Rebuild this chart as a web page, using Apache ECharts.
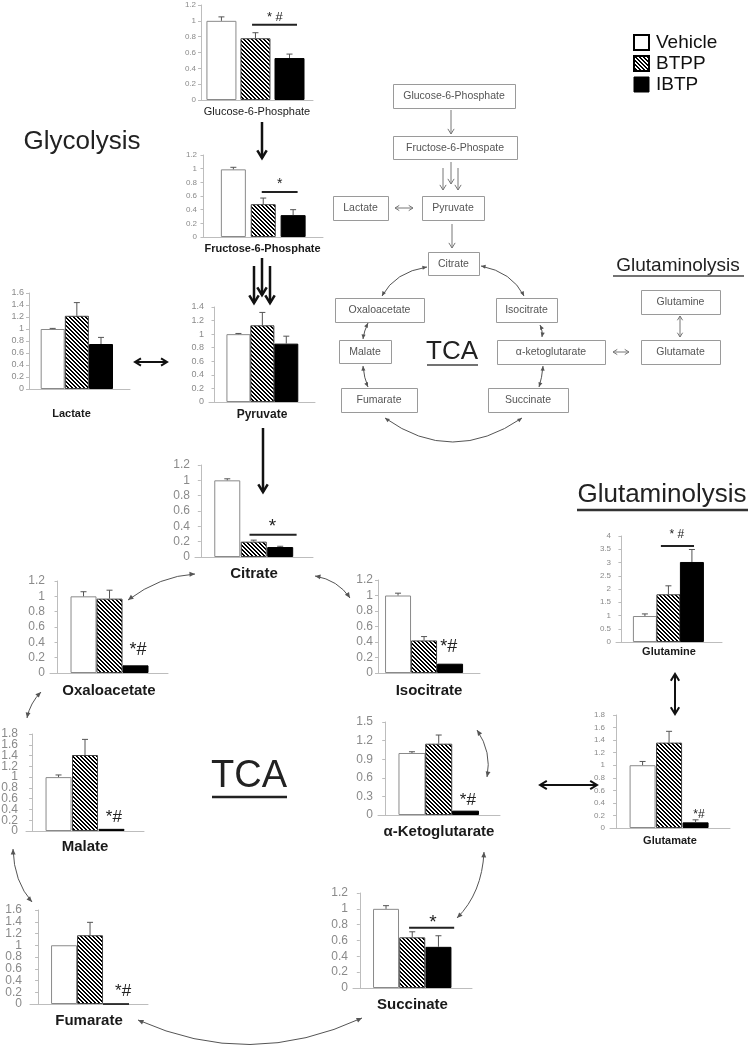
<!DOCTYPE html>
<html><head><meta charset="utf-8">
<script src="https://cdn.jsdelivr.net/npm/echarts@6/dist/echarts.min.js"></script>
<style>html,body{margin:0;padding:0;background:#fff}#c{width:750px;height:1049px}</style>
</head><body><div id="c"></div>
<script>
// ---------------- DATA ----------------
const metabolites = ['Glucose-6-Phosphate','Fructose-6-Phosphate','Lactate','Pyruvate','Citrate','Oxaloacetate','Isocitrate','Malate','Fumarate','α-Ketoglutarate','Succinate','Glutamine','Glutamate'];
const groups      = ['Vehicle','BTPP','IBTP'];
const vehicle     = [1.00,0.99,1.00,1.00,1.00,1.00,1.00,1.00,1.00,1.00,1.00,0.98,1.00];
const vehicleErr  = [0.05,0.03,0.01,0.01,0.02,0.06,0.03,0.04,0.00,0.02,0.04,0.08,0.06];
const btpp        = [0.78,0.48,1.22,1.13,0.20,0.97,0.42,1.41,1.17,1.15,0.64,1.80,1.36];
const btppErr     = [0.07,0.09,0.22,0.19,0.02,0.11,0.05,0.29,0.22,0.14,0.07,0.32,0.18];
const ibtp        = [0.53,0.32,0.75,0.86,0.13,0.10,0.12,0.04,0.00,0.07,0.52,3.02,0.09];
const ibtpErr     = [0.05,0.08,0.11,0.11,0.01,0.00,0.00,0.00,0.00,0.00,0.14,0.47,0.04];
const yMax        = [1.2,1.2,1.6,1.4,1.2,1.2,1.2,1.8,1.6,1.5,1.2,4,1.8];
const yStep       = [0.2,0.2,0.2,0.2,0.2,0.2,0.2,0.2,0.2,0.3,0.2,0.5,0.2];
// significance annotations (text, text position in data units, optional bracket line)
const sigText     = ['* #','*','','','*','*#','*#','*#','*#','*#','*','* #','*#'];
const sigX        = [2.57,2.55,0,0,2.71,3.1,2.95,3.09,3.27,3.09,2.79,2.36,3.13];
const sigY        = [1.04,0.78,0,0,0.40,0.30,0.34,0.26,0.22,0.24,0.83,4.04,0.22];
const sigLineFrom = [1.9,1.95,null,null,1.84,null,null,null,null,null,1.88,1.68,null];
const sigLineTo   = [3.22,3.15,null,null,3.62,null,null,null,null,null,3.6,3.09,null];
const sigLineY    = [0.95,0.66,null,null,0.29,null,null,null,null,null,0.76,3.62,null];

// ---------------- LAYOUT (pixels / styles) ----------------
// [axisX, topY, endX, zeroY, xMin, xMax, barFill, nameGap, labelSize, labelWeight, tickSize, sigSize, labelShiftLeft, denseTicks]
const layout = [
  [201,   5, 313, 100,  0.40, 3.69, 0.88,  6, 11, 'normal',  8, 13, 0, false],
  [202, 155, 323, 237, -0.05, 4.00, 0.85,  6, 11, 'bold',    8, 14, 0, false],
  [ 29, 293, 130, 389,  0.02, 4.20, 1.00, 19, 11, 'bold',    9, 12, 8, false],
  [209, 307, 315, 402, -0.23, 4.20, 1.00,  7, 12, 'bold',    9, 12, 0, false],
  [195, 465, 313, 557, -0.22, 4.24, 1.00,  9, 15, 'bold',   12, 19, 0, false],
  [ 50, 581, 168, 673, -0.29, 4.25, 1.00, 10, 15, 'bold',   12, 18, 0, false],
  [378, 580, 480, 673,  0.23, 4.15, 1.00, 10, 15, 'bold',   12, 18, 0, false],
  [ 26, 734, 144, 831, -0.23, 4.23, 1.00,  8, 15, 'bold',   12, 17, 0, true],
  [ 30, 910, 148,1004, -0.31, 4.23, 1.00,  9, 15, 'bold',   12, 17, 0, true],
  [378, 722, 500, 815, -0.27, 4.29, 1.00,  9, 15, 'bold',   12, 17, 0, false],
  [353, 893, 472, 988, -0.26, 4.28, 1.00,  9, 15, 'bold',   12, 19, 0, false],
  [616, 536, 722, 642, -0.23, 4.28, 1.00,  4, 11, 'bold',    8, 12, 0, false],
  [610, 715, 730, 828, -0.23, 4.30, 1.00,  7, 11, 'bold',    8, 12, 0, false]
];
const FONT = '"Liberation Sans", Arial, sans-serif';

function makeHatch(){
  const c = document.createElement('canvas'); c.width = 4; c.height = 4;
  const ctx = c.getContext('2d');
  ctx.fillStyle = '#fff'; ctx.fillRect(0,0,4,4);
  ctx.fillStyle = '#000';
  for (let i = 0; i < 4; i++) { ctx.fillRect(i, i, 1, 1); ctx.fillRect((i + 1) % 4, i, 1, 1); }
  return c;
}
const hatch = {image: makeHatch(), repeat: 'repeat'};
const barStyles = [
  {color: '#fff', borderColor: '#8a8a8a', borderWidth: 1},
  {color: hatch, borderColor: '#444', borderWidth: 1},
  {color: '#000', borderColor: '#000', borderWidth: 1}
];
const values = [vehicle, btpp, ibtp];
const errs = [vehicleErr, btppErr, ibtpErr];

const grids = [], xAxes = [], yAxes = [], series = [];
metabolites.forEach((name, i) => {
  const [ax, top, end, zero, xmin, xmax, fill, gap, lsize, lweight, tsize, ssize, shift, dense] = layout[i];
  const w = end - ax;
  const bw = Math.round(fill * w / (xmax - xmin));
  grids.push({left: ax, top: top, width: w, height: zero - top, containLabel: false});
  xAxes.push({
    gridIndex: i, type: 'value', min: xmin, max: xmax,
    axisLine: {show: true, onZero: false, lineStyle: {color: '#bdbdbd', width: 1}},
    axisTick: {show: false}, axisLabel: {show: false}, splitLine: {show: false},
    name: name, nameLocation: 'middle', nameGap: gap,
    nameTextStyle: {fontSize: lsize, fontWeight: lweight, color: '#1a1a1a', fontFamily: FONT, padding: [0, shift * 2, 0, 0]}
  });
  yAxes.push({
    gridIndex: i, type: 'value', min: 0, max: yMax[i], interval: yStep[i],
    axisLine: {show: true, lineStyle: {color: '#bdbdbd', width: 1}},
    axisTick: {show: true, length: 3, lineStyle: {color: '#bdbdbd'}},
    axisLabel: {show: !dense, color: '#8a8a8a', fontSize: tsize, margin: 5, fontFamily: FONT,
                showMinLabel: true, showMaxLabel: true, hideOverlap: false},
    splitLine: {show: false}
  });
  if (dense) {
    // tightly packed tick labels (they overlap in the original, so draw every one)
    const ticks = [];
    for (let k = 0; k * yStep[i] <= yMax[i] + 1e-9; k++) ticks.push([xmin, +(k * yStep[i]).toFixed(2)]);
    series.push({
      type: 'custom', xAxisIndex: i, yAxisIndex: i, silent: true, clip: false, animation: false, z: 4,
      data: ticks,
      renderItem(params, api) {
        const v = api.value(1);
        const p = api.coord([api.value(0), v]);
        return {type: 'text', x: p[0] - 8, y: p[1], style: {text: String(v), fontSize: tsize, fontFamily: FONT, fill: '#8a8a8a', align: 'right', verticalAlign: 'middle'}};
      }
    });
  }
  groups.forEach((g, k) => {
    series.push({
      type: 'bar', name: g, xAxisIndex: i, yAxisIndex: i,
      data: [[k + 1, values[k][i]]], barWidth: bw, barGap: '-100%',
      itemStyle: barStyles[k], silent: true, animation: false
    });
  });
  // error bars (upper only)
  series.push({
    type: 'custom', xAxisIndex: i, yAxisIndex: i, silent: true, z: 5, animation: false,
    data: groups.map((g, k) => [k + 1, values[k][i], errs[k][i]]),
    renderItem(params, api) {
      const x = api.value(0), v = api.value(1), e = api.value(2);
      if (!(e > 0)) return null;
      const p0 = api.coord([x, v]), p1 = api.coord([x, v + e]);
      const st = {stroke: '#555', lineWidth: 1};
      return {type: 'group', children: [
        {type: 'line', shape: {x1: p0[0], y1: p0[1], x2: p1[0], y2: p1[1]}, style: st},
        {type: 'line', shape: {x1: p1[0] - 3, y1: p1[1], x2: p1[0] + 3, y2: p1[1]}, style: st}
      ]};
    }
  });
  if (sigText[i]) {
    series.push({
      type: 'custom', xAxisIndex: i, yAxisIndex: i, silent: true, z: 6, animation: false, clip: false,
      data: [[sigX[i], sigY[i]]],
      renderItem(params, api) {
        const p = api.coord([api.value(0), api.value(1)]);
        const ch = [{type: 'text', x: p[0], y: p[1], style: {text: sigText[i], fontSize: ssize, fontFamily: FONT, fill: '#222', align: 'center', verticalAlign: 'middle'}}];
        if (sigLineFrom[i] != null) {
          const a = api.coord([sigLineFrom[i], sigLineY[i]]), b = api.coord([sigLineTo[i], sigLineY[i]]);
          ch.push({type: 'line', shape: {x1: a[0], y1: a[1], x2: b[0], y2: b[1]}, style: {stroke: '#222', lineWidth: 2}});
        }
        return {type: 'group', children: ch};
      }
    });
  }
});

// ---------------- DIAGRAM (graphic) ----------------
const G = [];
function addHead(x, y, ang, size, color, width, filled) {
  const s = filled ? 0.42 : 0.55;
  const pts = [[x - size * Math.cos(ang - s), y - size * Math.sin(ang - s)], [x, y], [x - size * Math.cos(ang + s), y - size * Math.sin(ang + s)]];
  if (filled) G.push({type: 'polygon', shape: {points: pts}, style: {fill: color}, silent: true});
  else G.push({type: 'polyline', shape: {points: pts}, style: {stroke: color, lineWidth: width, fill: null}, silent: true});
}
function straight(x1, y1, x2, y2, o) {
  G.push({type: 'line', shape: {x1, y1, x2, y2}, style: {stroke: o.color, lineWidth: o.width}, silent: true});
  const a = Math.atan2(y2 - y1, x2 - x1);
  addHead(x2, y2, a, o.size, o.color, o.width, o.filled);
  if (o.both) addHead(x1, y1, a + Math.PI, o.size, o.color, o.width, o.filled);
}
function curve(x1, y1, cx, cy, x2, y2, o) {
  G.push({type: 'bezierCurve', shape: {x1, y1, x2, y2, cpx1: cx, cpy1: cy}, style: {stroke: o.color, lineWidth: o.width, fill: null}, silent: true});
  addHead(x2, y2, Math.atan2(y2 - cy, x2 - cx), o.size, o.color, o.width, o.filled);
  addHead(x1, y1, Math.atan2(y1 - cy, x1 - cx), o.size, o.color, o.width, o.filled);
}
function text(t, x, y, size, opts) {
  opts = opts || {};
  G.push({type: 'text', x: x, y: y, silent: true, style: {text: t, fontSize: size, fontFamily: FONT, fill: opts.fill || '#222', fontWeight: opts.weight || 'normal', align: opts.align || 'center', verticalAlign: 'middle'}});
}
function underline(x1, x2, y, w, color) {
  G.push({type: 'line', shape: {x1, y1: y, x2, y2: y}, style: {stroke: color || '#222', lineWidth: w}, silent: true});
}

// thick black arrows
const thick = {color: '#111', width: 2.5, size: 9, filled: false};
straight(262, 122, 262, 158, thick);
straight(254, 266, 254, 303, thick);
straight(262, 258, 262, 295, thick);
straight(270, 266, 270, 303, thick);
straight(263, 428, 263, 492, thick);
straight(135, 362, 167, 362, Object.assign({both: true}, thick, {width: 2, size: 7}));
straight(540, 785, 597, 785, Object.assign({both: true}, thick, {width: 2, size: 8}));
straight(675, 674, 675, 714, Object.assign({both: true}, thick, {width: 2, size: 8}));

// curved arrows of the lower TCA cycle
const cv = {color: '#555', width: 1, size: 6, filled: true};
curve(128, 600, 160, 576, 195, 574, cv);
curve(315, 576, 338, 580, 350, 598, cv);
curve(41, 692, 30, 703, 27, 718, cv);
curve(13, 849, 14, 882, 32, 902, cv);
curve(138, 1020, 250, 1070, 362, 1018, cv);
curve(457, 918, 482, 893, 484, 852, cv);
curve(477, 730, 492, 752, 487, 777, cv);

// schematic (top right)
const boxes = [
  ['Glucose-6-Phosphate', 393, 84, 122, 24],
  ['Fructose-6-Phospate', 393, 136, 124, 23],
  ['Lactate', 333, 196, 55, 24],
  ['Pyruvate', 422, 196, 62, 24],
  ['Citrate', 428, 252, 51, 23],
  ['Oxaloacetate', 335, 298, 89, 24],
  ['Isocitrate', 496, 298, 61, 24],
  ['Malate', 339, 340, 52, 23],
  ['α-ketoglutarate', 497, 340, 108, 24],
  ['Fumarate', 341, 388, 76, 24],
  ['Succinate', 488, 388, 80, 24],
  ['Glutamine', 641, 290, 79, 24],
  ['Glutamate', 641, 340, 79, 24]
];
boxes.forEach(b => {
  G.push({type: 'rect', shape: {x: b[1] + 0.5, y: b[2] + 0.5, width: b[3], height: b[4]}, style: {fill: '#fff', stroke: '#9a9a9a', lineWidth: 1}, silent: true});
  text(b[0], b[1] + b[3] / 2, b[2] + b[4] / 2 + 0.5, 10.5, {fill: '#555'});
});
const thin = {color: '#777', width: 1, size: 6, filled: false};
straight(451, 110, 451, 134, thin);
straight(443, 168, 443, 190, thin);
straight(451, 162, 451, 184, thin);
straight(458, 168, 458, 190, thin);
straight(395, 208, 413, 208, Object.assign({both: true}, thin, {size: 5}));
straight(452, 224, 452, 248, thin);
straight(613, 352, 629, 352, Object.assign({both: true}, thin, {size: 5}));
straight(680, 316, 680, 337, Object.assign({both: true}, thin, {size: 5}));
const cs = {color: '#555', width: 1, size: 5, filled: true};
curve(382, 296, 395, 272, 427, 267, cs);
curve(481, 266, 512, 272, 524, 296, cs);
curve(368, 323, 364, 331, 363, 339, cs);
curve(363, 366, 364, 378, 368, 387, cs);
curve(540, 325, 543, 331, 542, 337, cs);
curve(543, 366, 542, 378, 539, 387, cs);
curve(385, 418, 452, 466, 522, 418, cs);

// headings
text('Glycolysis', 82, 142, 26);
text('TCA', 452, 352, 26);
underline(427, 478, 365, 1.5, '#444');
text('Glutaminolysis', 678, 266, 19);
underline(613, 744, 276, 1.5, '#444');
text('TCA', 249, 777, 38);
underline(212, 287, 797, 2.5);
text('Glutaminolysis', 662, 495, 26);
underline(577, 748, 510, 2.5, '#333');

const chart = echarts.init(document.getElementById('c'), null, {renderer: 'canvas'});
chart.setOption({
  backgroundColor: '#fff',
  animation: false,
  textStyle: {fontFamily: FONT},
  legend: {
    orient: 'vertical', left: 628, top: 28, itemWidth: 15, itemHeight: 15, itemGap: 2,
    icon: 'rect', selectedMode: false,
    textStyle: {fontSize: 19, color: '#111', fontFamily: FONT, padding: [0, 0, 0, 2]},
    data: [
      {name: 'Vehicle', itemStyle: {color: '#fff', borderColor: '#000', borderWidth: 2}},
      {name: 'BTPP', itemStyle: {color: hatch, borderColor: '#000', borderWidth: 2}},
      {name: 'IBTP', itemStyle: {color: '#000', borderColor: '#000', borderWidth: 1}}
    ]
  },
  grid: grids, xAxis: xAxes, yAxis: yAxes, series: series,
  graphic: G
});
</script>
</body></html>
